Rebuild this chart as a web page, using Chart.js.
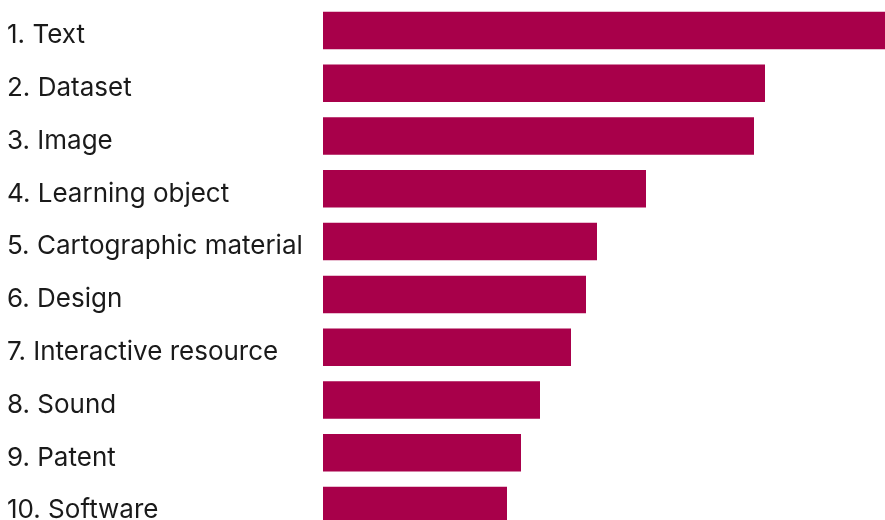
<!DOCTYPE html>
<html>
<head>
<meta charset="utf-8">
<script src="https://cdn.jsdelivr.net/npm/chart.js@4"></script>
<style>
html,body{margin:0;padding:0;background:#fff;overflow:hidden;}
#wrap{position:relative;width:885px;height:532px;}
</style>
</head>
<body>
<div id="wrap"><canvas id="c"></canvas></div>
<script>
const categories = ["1. Text","2. Dataset","3. Image","4. Learning object","5. Cartographic material","6. Design","7. Interactive resource","8. Sound","9. Patent","10. Software"];
const values = [562, 442, 431, 323, 274, 263, 248, 217, 198, 184];
const barColor = "#A8004A";

new Chart(document.getElementById('c'), {
  type: 'bar',
  data: {
    labels: categories,
    datasets: [{
      data: values,
      backgroundColor: barColor,
      borderWidth: 0,
      categoryPercentage: 1,
      barPercentage: 0.71
    }]
  },
  options: {
    indexAxis: 'y',
    responsive: true,
    maintainAspectRatio: false,
    animation: false,
    layout: { padding: { left: 7, top: 4, right: 0, bottom: 0 } },
    plugins: { legend: { display: false }, tooltip: { enabled: false } },
    scales: {
      x: { display: false, min: 0, max: 562 },
      y: {
        grid: { display: false, drawTicks: false },
        border: { display: false },
        ticks: {
          crossAlign: 'far',
          color: '#1a1a1a',
          labelOffset: 5,
          font: { family: 'Inter', size: 26, weight: '400' }
        },
        afterFit: (s) => { s.width = 316; s.paddingTop = 0; s.paddingBottom = 0; }
      }
    }
  }
});
</script>
</body>
</html>
